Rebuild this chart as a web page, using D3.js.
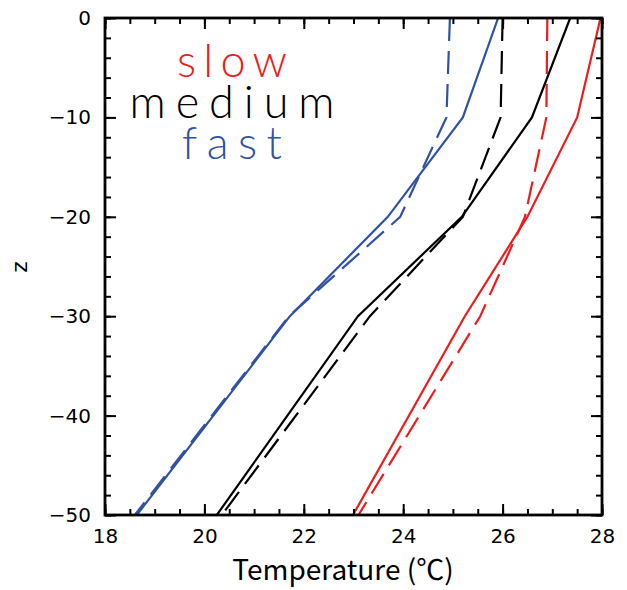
<!DOCTYPE html>
<html>
<head>
<meta charset="utf-8">
<script src="https://cdn.jsdelivr.net/npm/d3@7"></script>
<style>
html,body{margin:0;padding:0;background:#fff;}
svg{display:block;}
</style>
</head>
<body>
<svg id="chart" width="627" height="590"></svg>
<script>
// depth levels (m)
const depths = [0, -10, -20, -30, -50];
// temperatures (°C) per series
const slowSolid   = [27.97, 27.50, 26.50, 25.24, 22.99];
const slowDashed  = [26.90, 26.88, 26.45, 25.55, 23.10];
const mediumSolid = [27.36, 26.59, 25.18, 23.09, 20.25];
const mediumDashed= [26.00, 25.96, 25.20, 23.33, 20.35];
const fastSolid   = [25.91, 25.20, 23.69, 21.72, 18.64];
const fastDashed  = [24.94, 24.87, 23.94, 21.70, 18.60];

const xTicks = [18, 20, 22, 24, 26, 28];
const yTicks = [0, -10, -20, -30, -40, -50];
const legendLabels = ["slow", "medium", "fast"];

const RED = "#ee1c1c", BLACK = "#000000", BLUE = "#2f52a3";
const series = [
  {vals: slowSolid, color: RED, dash: null},
  {vals: slowDashed, color: RED, dash: "23,10"},
  {vals: mediumSolid, color: BLACK, dash: null},
  {vals: mediumDashed, color: BLACK, dash: "23,10"},
  {vals: fastSolid, color: BLUE, dash: null},
  {vals: fastDashed, color: BLUE, dash: "23,10"}
];
const legendColors = [RED, BLACK, BLUE];

const svg = d3.select("#chart");
const L = 105, T = 18, W = 497, H = 497;
const x = d3.scaleLinear().domain([18, 28]).range([L, L + W]);
const y = d3.scaleLinear().domain([-50, 0]).range([T + H, T]);

const tickFont = "'DejaVu Sans', sans-serif";

svg.append("defs").append("clipPath").attr("id", "clip")
  .append("rect").attr("x", L).attr("y", T).attr("width", W).attr("height", H);

// lines
const line = d3.line().x(d => x(d[0])).y(d => y(d[1]));
const g = svg.append("g").attr("clip-path", "url(#clip)");
series.forEach(s => {
  g.append("path")
    .datum(s.vals.map((v, i) => [v, depths[i]]))
    .attr("d", line)
    .attr("fill", "none")
    .attr("stroke", s.color)
    .attr("stroke-width", 2.2)
    .attr("stroke-dasharray", s.dash);
});

// axes with inward ticks on all sides
const minorX = d3.range(18, 28.001, 0.5);
const minorY = d3.range(-50, 0.001, 2);
function styleAxis(sel) {
  sel.select(".domain").remove();
  sel.selectAll("line").attr("stroke", "#000").attr("stroke-width", 2);
}
const bottomMin = svg.append("g").attr("transform", `translate(0,${T + H})`)
  .call(d3.axisBottom(x).tickValues(minorX).tickSize(-6).tickFormat(""));
styleAxis(bottomMin);
const bottomLab = svg.append("g").attr("transform", `translate(0,${T + H})`)
  .call(d3.axisBottom(x).tickValues(xTicks).tickSize(-11).tickPadding(14).tickFormat(d3.format("d")));
styleAxis(bottomLab);
bottomLab.selectAll("text").attr("font-family", tickFont).attr("font-size", 20).attr("fill", "#000")
  .attr("dy", "0.71em");

const topMin = svg.append("g").attr("transform", `translate(0,${T})`)
  .call(d3.axisTop(x).tickValues(minorX).tickSize(-6).tickFormat(""));
styleAxis(topMin);
const topMaj = svg.append("g").attr("transform", `translate(0,${T})`)
  .call(d3.axisTop(x).tickValues(xTicks).tickSize(-11).tickFormat(""));
styleAxis(topMaj);

const leftMin = svg.append("g").attr("transform", `translate(${L},0)`)
  .call(d3.axisLeft(y).tickValues(minorY).tickSize(-6).tickFormat(""));
styleAxis(leftMin);
const leftLab = svg.append("g").attr("transform", `translate(${L},0)`)
  .call(d3.axisLeft(y).tickValues(yTicks).tickSize(-11).tickPadding(14)
    .tickFormat(d => d === 0 ? "0" : "\u2212" + Math.abs(d)));
styleAxis(leftLab);
leftLab.selectAll("text").attr("font-family", tickFont).attr("font-size", 20).attr("fill", "#000");

const rightMin = svg.append("g").attr("transform", `translate(${L + W},0)`)
  .call(d3.axisRight(y).tickValues(minorY).tickSize(-6).tickFormat(""));
styleAxis(rightMin);
const rightMaj = svg.append("g").attr("transform", `translate(${L + W},0)`)
  .call(d3.axisRight(y).tickValues(yTicks).tickSize(-11).tickFormat(""));
styleAxis(rightMaj);

// frame
svg.append("rect").attr("x", L).attr("y", T).attr("width", W).attr("height", H)
  .attr("fill", "none").attr("stroke", "#000").attr("stroke-width", 2.8);

// axis titles
svg.append("text").attr("x", 343).attr("y", 580).attr("text-anchor", "middle")
  .attr("font-family", "'Noto Sans CJK JP', 'Noto Sans', sans-serif").attr("font-size", 28)
  .attr("fill", "#000").text("Temperature (℃)");
svg.append("text").attr("transform", "translate(27,267) rotate(-90)").attr("text-anchor", "middle")
  .attr("font-family", tickFont).attr("font-size", 22).attr("fill", "#000").text("z");

// legend
const legendY = [77, 118, 159];
const legendW = [110, 205, 100];
legendLabels.forEach((t, i) => {
  svg.append("text").attr("x", 232).attr("y", legendY[i]).attr("text-anchor", "middle")
    .attr("font-family", "Lato, sans-serif").attr("font-weight", 300).attr("font-size", 45)
    .attr("textLength", legendW[i]).attr("lengthAdjust", "spacing")
    .attr("fill", legendColors[i]).text(t);
});
</script>
</body>
</html>
